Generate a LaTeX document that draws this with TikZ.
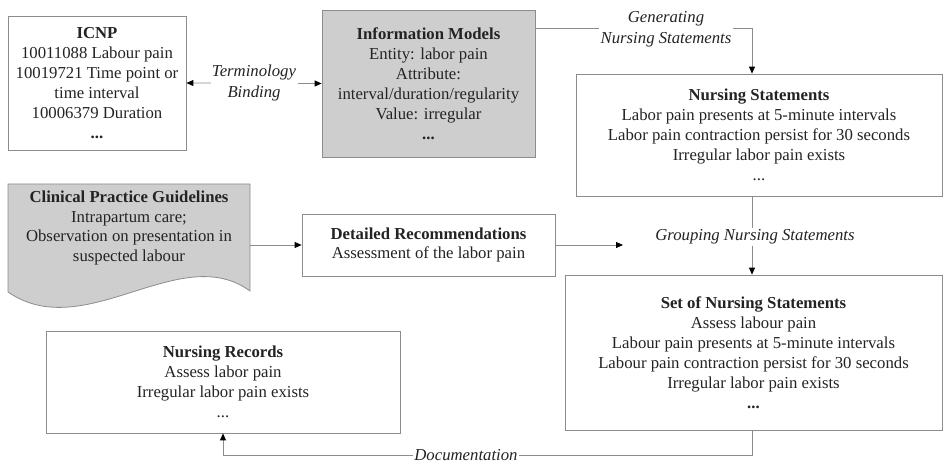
\documentclass[tikz,border=0pt]{standalone}
\usepackage{fontspec}
\setmainfont{Liberation Serif}
\usetikzlibrary{arrows.meta}
\definecolor{boxgray}{RGB}{206,206,206}
\definecolor{linegray}{RGB}{140,140,140}
\definecolor{txt}{RGB}{35,35,35}
\begin{document}
\begin{tikzpicture}[x=1bp,y=-1bp,
  font=\fontsize{16.8}{20}\selectfont,
  >={Triangle[length=7pt,width=6pt,color=black]},
  box/.style={draw=linegray, line width=0.8pt, align=center, inner sep=0pt, text=txt},
  conn/.style={draw=linegray, line width=0.8pt},
  lbl/.style={fill=white, text=txt, font=\fontsize{16.8}{21}\selectfont\itshape, align=center, inner sep=1.5pt}]
\useasboundingbox (0,0) rectangle (944,465);

\node[box, minimum width=178bp, minimum height=134bp] (icnp) at (97,83)
  {\textbf{ICNP}\\10011088 Labour pain\\10019721 Time point or\\time interval\\10006379 Duration\\\textbf{...}};

\node[box, fill=boxgray, minimum width=213bp, minimum height=147bp] (im) at (428.5,83.5)
  {\textbf{Information Models}\\Entity: labor pain\\Attribute:\\interval/duration/regularity\\Value: irregular\\\textbf{...}};

\node[box, minimum width=366bp, minimum height=122bp] (ns) at (759,135)
  {\textbf{Nursing Statements}\\Labor pain presents at 5-minute intervals\\Labor pain contraction persist for 30 seconds\\Irregular labor pain exists\\...};

\node[box, minimum width=377bp, minimum height=155bp] (set) at (753.5,352.5)
  {\textbf{Set of Nursing Statements}\\Assess labour pain\\Labour pain presents at 5-minute intervals\\Labour pain contraction persist for 30 seconds\\Irregular labor pain exists\\\textbf{...}};

\node[box, minimum width=253bp, minimum height=62bp] (dr) at (428.5,245)
  {\textbf{Detailed Recommendations}\\Assessment of the labor pain};

\node[box, minimum width=354bp, minimum height=102bp] (rec) at (223,382)
  {\textbf{Nursing Records}\\Assess labor pain\\Irregular labor pain exists\\...};

% Clinical practice guidelines (document shape)
\draw[draw=linegray, line width=0.8pt, fill=boxgray]
  (8,184) -- (250,184) -- (250,291) .. controls (180,240) and (85,345) .. (8,292) -- cycle;
\node[align=center, text=txt, inner sep=0pt, minimum width=242bp] (cpg) at (129,228)
  {\textbf{Clinical Practice Guidelines}\\Intrapartum care;\\Observation on presentation in\\suspected labour};

% connectors
\draw[conn, <->] (icnp.east) -- node[lbl] (tb) {Terminology\\Binding} (im.west);

\draw[conn, ->] (im.east |- 0,28) -- (752,28) -- (ns.north -| 752,0);
\node[lbl] (gen) at (666,29) {Generating\\Nursing Statements};

\draw[conn, ->] (ns.south -| 752,0) -- (set.north -| 752,0);
\node[lbl] (grp) at (755,237) {Grouping Nursing Statements};

\draw[conn, ->] (cpg.east |- dr) -- (dr.west);
\coordinate (drend) at (623,245);
\draw[conn, ->] (dr.east) -- (drend);

\draw[conn, ->] (set.south -| 752,0) -- (752,455) -- (223,455) -- (rec.south);
\node[lbl] (doc) at (466,455) {Documentation};
\end{tikzpicture}
\end{document}
